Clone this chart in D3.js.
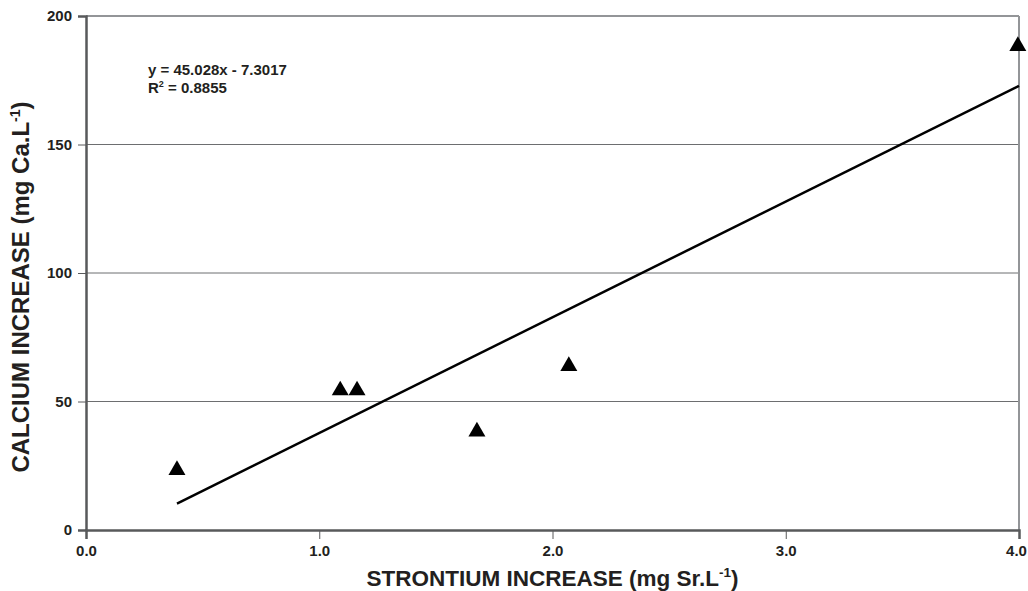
<!DOCTYPE html>
<html>
<head>
<meta charset="utf-8">
<script src="https://cdn.jsdelivr.net/npm/d3@7"></script>
<style>
  body { margin: 0; background: #fff; }
  text { font-family: "Liberation Sans", Arial, sans-serif; font-weight: bold; fill: #231f20; }
</style>
</head>
<body>
<div id="chart"></div>
<script>
// data
var strontium = [0.39, 1.09, 1.162, 1.676, 2.07, 3.995];
var calcium   = [23.3, 54.3, 54.3, 38.3, 63.8, 188.3];
var xTicks = [0, 1, 2, 3, 4];
var yTicks = [0, 50, 100, 150, 200];
var slope = 45.028, intercept = -7.3017;
var eqLines = ["y = 45.028x - 7.3017", "R2 = 0.8855"];

var margin = {top: 16, right: 10, bottom: 61, left: 86};
var width = 1028 - margin.left - margin.right;
var height = 591 - margin.top - margin.bottom;

var svg = d3.select("#chart")
    .append("svg")
    .attr("width", 1028)
    .attr("height", 591)
    .append("g")
    .attr("transform", "translate(" + margin.left + "," + margin.top + ")");

var x = d3.scaleLinear().domain([0, 4]).range([0, 933]);
var y = d3.scaleLinear().domain([0, 200]).range([height, 0]);

// gridlines
svg.selectAll(".grid")
    .data(yTicks.filter(function(d) { return d > 0 && d < 200; }))
    .enter().append("line")
    .attr("x1", 0).attr("x2", x(4))
    .attr("y1", function(d) { return y(d); })
    .attr("y2", function(d) { return y(d); })
    .attr("stroke", "#6d6e70").attr("stroke-width", 1);

// top and right frame
svg.append("line").attr("x1", 0).attr("x2", x(4)).attr("y1", y(200)).attr("y2", y(200))
    .attr("stroke", "#939598").attr("stroke-width", 2);
svg.append("line").attr("x1", x(4)).attr("x2", x(4)).attr("y1", y(200)).attr("y2", y(0))
    .attr("stroke", "#939598").attr("stroke-width", 2);

// axes
var yAxis = svg.append("g")
    .call(d3.axisLeft(y).tickValues(yTicks).tickSize(8).tickPadding(6).tickFormat(d3.format("d")));
var xAxis = svg.append("g")
    .attr("transform", "translate(0," + y(0) + ")")
    .call(d3.axisBottom(x).tickValues(xTicks).tickSize(9).tickPadding(4).tickFormat(d3.format(".1f")));

[yAxis, xAxis].forEach(function(ax) {
  ax.attr("font-size", null);
  ax.select(".domain").attr("stroke", "#58595b").attr("stroke-width", 2.5);
  ax.selectAll(".tick line").attr("stroke", "#58595b");
  ax.selectAll(".tick text").style("font-size", "15px").attr("fill", "#231f20");
});
xAxis.selectAll(".tick text").attr("dy", "0.85em");
// last label sits at the edge of the page
xAxis.selectAll(".tick text").filter(function(d) { return d === 4; }).attr("dx", -3);

// trend line
var x0 = d3.min(strontium), x1 = 4;
svg.append("line")
    .attr("x1", x(x0)).attr("y1", y(slope * x0 + intercept))
    .attr("x2", x(x1)).attr("y2", y(slope * x1 + intercept))
    .attr("stroke", "#000").attr("stroke-width", 2.5);

// triangle markers
var tri = d3.symbol().type(d3.symbolTriangle).size(125);
svg.selectAll(".pt")
    .data(d3.zip(strontium, calcium))
    .enter().append("path")
    .attr("d", tri)
    .attr("transform", function(d) { return "translate(" + x(d[0]) + "," + y(d[1]) + ")"; })
    .attr("fill", "#000");

// equation
var eq = svg.append("g").attr("transform", "translate(62,0)");
eq.append("text").attr("y", 59).style("font-size", "15px").text(eqLines[0]);
var r2 = eq.append("text").attr("y", 77).style("font-size", "15px");
r2.append("tspan").text("R");
r2.append("tspan").attr("dy", -6).style("font-size", "9px").text("2");
r2.append("tspan").attr("dy", 6).text(" = 0.8855");

// axis titles
var xt = svg.append("text")
    .attr("x", x(2)).attr("y", height + 56)
    .attr("text-anchor", "middle")
    .style("font-size", "22.5px");
xt.append("tspan").text("STRONTIUM INCREASE (mg Sr.L");
xt.append("tspan").attr("dy", -9).style("font-size", "13.5px").text("-1");
xt.append("tspan").attr("dy", 9).text(")");

var yt = svg.append("text")
    .attr("transform", "translate(-57," + (height / 2 + 14) + ") rotate(-90)")
    .attr("text-anchor", "middle")
    .style("font-size", "24px");
yt.append("tspan").text("CALCIUM INCREASE (mg Ca.L");
yt.append("tspan").attr("dy", -9).style("font-size", "14px").text("-1");
yt.append("tspan").attr("dy", 9).text(")");
</script>
</body>
</html>
